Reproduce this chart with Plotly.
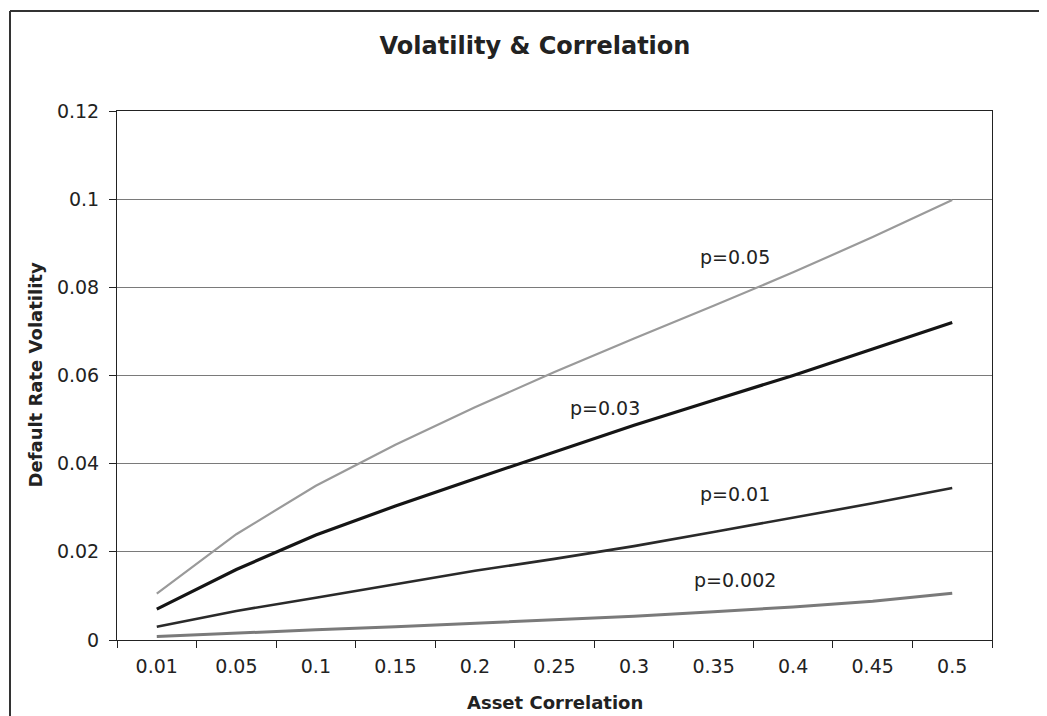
"""
Volatility & Correlation chart
"""

import plotly.graph_objects as go

# data
asset_correlation = ["0.01", "0.05", "0.1", "0.15", "0.2", "0.25", "0.3", "0.35", "0.4", "0.45", "0.5"]
vol_p005 = [0.0105, 0.0240, 0.0350, 0.0443, 0.0528, 0.0608, 0.0684, 0.0758, 0.0834, 0.0914, 0.0998]
vol_p003 = [0.0070, 0.0160, 0.0238, 0.0304, 0.0366, 0.0427, 0.0487, 0.0544, 0.0600, 0.0660, 0.0720]
vol_p001 = [0.0030, 0.0066, 0.0096, 0.0127, 0.0157, 0.0184, 0.0213, 0.0245, 0.0278, 0.0310, 0.0345]
vol_p0002 = [0.0008, 0.0016, 0.0023, 0.0030, 0.0038, 0.0046, 0.0054, 0.0064, 0.0075, 0.0088, 0.0106]

y_ticks = [0, 0.02, 0.04, 0.06, 0.08, 0.1, 0.12]
y_ticktext = ["0", "0.02", "0.04", "0.06", "0.08", "0.1", "0.12"]

FONT = "DejaVu Sans"
TXT = "#222222"

series = [
    ("p=0.05", vol_p005, "#9a9a9a", 2.2),
    ("p=0.03", vol_p003, "#151515", 3.2),
    ("p=0.01", vol_p001, "#2a2a2a", 2.6),
    ("p=0.002", vol_p0002, "#7a7a7a", 3.0),
]

# label positions (category index, value)
labels = [
    ("p=0.05", 7.27, 0.0868),
    ("p=0.03", 5.64, 0.0527),
    ("p=0.01", 7.27, 0.0332),
    ("p=0.002", 7.27, 0.0136),
]

# page body adds an 8px offset; the figure is sized to fit the rest
OFF = 8
W, H = 1047 - OFF, 716 - OFF
PL, PR, PT, PB = 117 - OFF, 992 - OFF, 111 - OFF, 640 - OFF
pw, ph = PR - PL, PB - PT


def px(x):
    return (x - OFF - PL) / pw


def py(y):
    return (PB - (y - OFF)) / ph


fig = go.Figure()
for name, vals, clr, w in series:
    fig.add_trace(
        go.Scatter(
            x=asset_correlation,
            y=vals,
            mode="lines",
            name=name,
            line=dict(color=clr, width=w),
            hovertemplate="<b>" + name + "</b><br>rho: %{x}<br>vol: %{y}<extra></extra>",
        )
    )

for text, xi, yv in labels:
    fig.add_annotation(
        x=xi, y=yv, xref="x", yref="y", text=text, showarrow=False,
        font=dict(family=FONT, size=19, color=TXT),
    )

# axis titles
fig.add_annotation(
    x=px(35), y=0.5, xref="paper", yref="paper", text="<b>Default Rate Volatility</b>",
    textangle=-90, showarrow=False, xanchor="center", yanchor="middle",
    font=dict(family=FONT, size=18, color=TXT),
)
fig.add_annotation(
    x=0.5, y=py(702), xref="paper", yref="paper", text="<b>Asset Correlation</b>",
    showarrow=False, xanchor="center", yanchor="middle",
    font=dict(family=FONT, size=18, color=TXT),
)

# outer chart frame (top and left edges visible)
fig.add_shape(type="line", xref="paper", yref="paper", x0=px(10), x1=px(1050), y0=py(11), y1=py(11),
              line=dict(color="#333333", width=2))
fig.add_shape(type="line", xref="paper", yref="paper", x0=px(10), x1=px(10), y0=py(11), y1=py(720),
              line=dict(color="#333333", width=2))

fig.update_layout(
    width=W,
    height=H,
    margin=dict(t=PT, b=H - PB, l=PL, r=W - PR),
    paper_bgcolor="white",
    plot_bgcolor="white",
    showlegend=False,
    font=dict(family=FONT, size=19, color=TXT),
    title=dict(
        text="<b>Volatility & Correlation</b>",
        x=(535 - OFF) / W, xanchor="center", y=1 - (46 - OFF) / H, yanchor="middle",
        font=dict(family=FONT, size=24, color=TXT),
    ),
    xaxis=dict(
        type="category",
        range=[-0.5, len(asset_correlation) - 0.5],
        tickson="boundaries",
        ticks="outside",
        ticklen=7,
        tickcolor="#222222",
        showline=True,
        linecolor="#222222",
        linewidth=1,
        mirror=True,
        showgrid=False,
        ticklabelstandoff=9,
        tickfont=dict(family=FONT, size=19, color=TXT),
    ),
    yaxis=dict(
        range=[0, 0.12],
        tickvals=y_ticks,
        ticktext=y_ticktext,
        ticks="outside",
        ticklen=7,
        tickcolor="#222222",
        showline=True,
        linecolor="#222222",
        linewidth=1,
        mirror=True,
        showgrid=True,
        gridcolor="#7a7a7a",
        gridwidth=1,
        zeroline=False,
        ticklabelstandoff=6,
        tickfont=dict(family=FONT, size=19, color=TXT),
    ),
)

fig.write_html("out.html")
